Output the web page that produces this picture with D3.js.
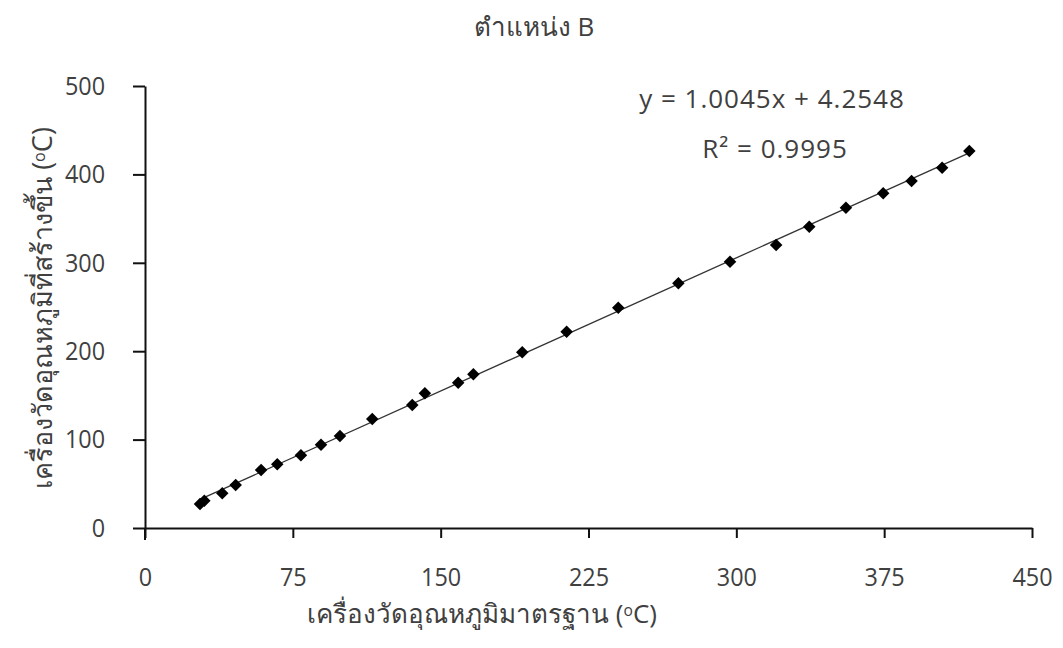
<!DOCTYPE html>
<html>
<head>
<meta charset="utf-8">
<script src="https://cdn.jsdelivr.net/npm/d3@7"></script>
<style>
  html, body { margin: 0; padding: 0; background: #fff; }
  svg { display: block; }
  text { font-family: "Open Sans", "Noto Sans", "DejaVu Sans", sans-serif; fill: #404040; }
</style>
</head>
<body>
<svg id="chart" width="1063" height="648"></svg>
<script>
// Standard thermometer reading (°C) and the built thermometer reading (°C), position B
const standardTemp = [27.9, 30.1, 39.2, 46.0, 58.9, 67.1, 79.1, 89.3, 98.9, 115.3, 135.6, 142.0, 158.9,
                      166.6, 191.4, 213.9, 240.1, 270.6, 296.8, 320.2, 337.0, 355.6, 374.5, 388.9, 404.4, 418.2];
const builtTemp    = [27.1, 30.9, 39.2, 48.6, 65.6, 72.0, 82.2, 94.2, 104.1, 123.3, 139.1, 152.4, 164.4,
                      173.9, 198.8, 222.1, 249.2, 276.8, 301.2, 320.1, 340.8, 362.3, 378.6, 392.5, 407.6, 426.5];

const xTicks = [0, 75, 150, 225, 300, 375, 450];
const yTicks = [0, 100, 200, 300, 400, 500];

// Linear trendline
const slope = 1.0045;
const intercept = 4.2548;
const rSquared = 0.9995;

const titleText = "ตำแหน่ง B";
const xTitle = "เครื่องวัดอุณหภูมิมาตรฐาน (";
const yTitle = "เครื่องวัดอุณหภูมิที่สร้างขึ้น (";

const svg = d3.select("#chart");

const x = d3.scaleLinear().domain([0, 450]).range([145, 1032]);
const y = d3.scaleLinear().domain([0, 500]).range([528, 86]);

// Tick labels use a slightly condensed face
const squeeze = 0.9;

// Axes
const xAxis = svg.append("g")
  .attr("transform", `translate(0,${y(0)})`)
  .call(d3.axisBottom(x).tickValues(xTicks).tickSize(10).tickSizeOuter(0).tickPadding(30));
const yAxis = svg.append("g")
  .attr("transform", `translate(${x(0)},0)`)
  .call(d3.axisLeft(y).tickValues(yTicks).tickSize(12).tickSizeOuter(0).tickPadding(28));

[xAxis, yAxis].forEach(g => {
  g.select(".domain").attr("stroke", "#111").attr("stroke-width", 2);
  g.selectAll(".tick line").attr("stroke", "#111").attr("stroke-width", 2);
  g.selectAll(".tick text")
    .style("font-family", '"Open Sans", "Noto Sans", sans-serif')
    .style("font-size", "26px")
    .attr("fill", "#404040");
});
xAxis.selectAll(".tick text").attr("transform", `scale(${squeeze},1)`);
yAxis.selectAll(".tick text")
  .attr("x", -40 / squeeze)
  .attr("transform", `scale(${squeeze},1)`);

// y axis runs a little below the x axis
svg.append("line")
  .attr("x1", x(0)).attr("x2", x(0))
  .attr("y1", y(0)).attr("y2", y(0) + 12)
  .attr("stroke", "#111").attr("stroke-width", 2);

// Trendline over the data range
const xMin = d3.min(standardTemp), xMax = d3.max(standardTemp);
svg.append("line")
  .attr("x1", x(xMin)).attr("y1", y(slope * xMin + intercept))
  .attr("x2", x(xMax)).attr("y2", y(slope * xMax + intercept))
  .attr("stroke", "#333").attr("stroke-width", 1.3);

// Diamond markers
const diamond = d3.symbol().type(d3.symbolDiamond2).size(100);
svg.append("g")
  .selectAll("path")
  .data(standardTemp.map((v, i) => [v, builtTemp[i]]))
  .join("path")
  .attr("d", diamond)
  .attr("transform", d => `translate(${x(d[0])},${y(d[1])})`)
  .attr("fill", "#000");

// Equation and R²
svg.append("text")
  .attr("x", 772).attr("y", 108)
  .attr("text-anchor", "middle")
  .style("font-size", "26px")
  .style("letter-spacing", "1px")
  .text(`y = ${slope.toFixed(4)}x + ${intercept.toFixed(4)}`);
svg.append("text")
  .attr("x", 775).attr("y", 158)
  .attr("text-anchor", "middle")
  .style("font-size", "26px")
  .style("letter-spacing", "1px")
  .text(`R² = ${rSquared.toFixed(4)}`);

// Title
svg.append("text")
  .attr("x", 534).attr("y", 36)
  .attr("text-anchor", "middle")
  .style("font-size", "26px")
  .text(titleText);

// Axis titles with superscript degree mark
function axisTitle(sel, base) {
  sel.append("tspan").text(base);
  sel.append("tspan").attr("dy", "-0.45em").style("font-size", "0.6em").text("o");
  sel.append("tspan").attr("dy", "0.27em").text("C)");
}
svg.append("text")
  .attr("x", 482).attr("y", 623)
  .attr("text-anchor", "middle")
  .style("font-size", "26px")
  .call(axisTitle, xTitle);

svg.append("text")
  .attr("transform", "translate(52,308) rotate(-90)")
  .attr("text-anchor", "middle")
  .style("font-size", "27px")
  .call(axisTitle, yTitle);
</script>
</body>
</html>
